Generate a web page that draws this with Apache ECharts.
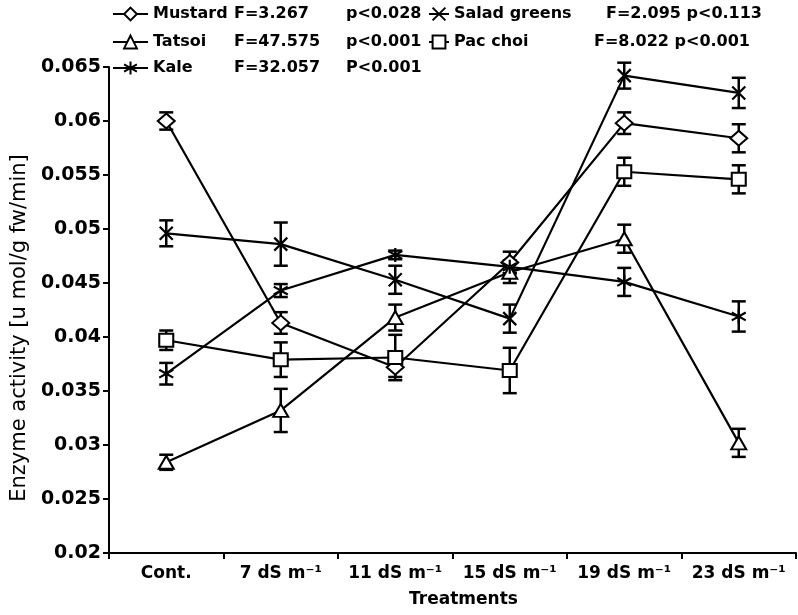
<!DOCTYPE html>
<html>
<head>
<meta charset="utf-8">
<script src="https://cdn.jsdelivr.net/npm/echarts@6/dist/echarts.min.js"></script>
<style>
html,body{margin:0;padding:0;background:#fff;}
#chart{width:798px;height:615px;}
</style>
</head>
<body>
<div id="chart"></div>
<script>
const categories = ['Cont.', '7 dS m\u207B\u00B9', '11 dS m\u207B\u00B9', '15 dS m\u207B\u00B9', '19 dS m\u207B\u00B9', '23 dS m\u207B\u00B9'];

const mustard = [0.0600, 0.0413, 0.0372, 0.0469, 0.0598, 0.0584];
const mustardErr = [0.0008, 0.0010, 0.0009, 0.0010, 0.0010, 0.0013];

const saladGreens = [0.0496, 0.0486, 0.0453, 0.0417, 0.0642, 0.0626];
const saladGreensErr = [0.0012, 0.0020, 0.0013, 0.0013, 0.0012, 0.0014];

const tatsoi = [0.0284, 0.0332, 0.0418, 0.0460, 0.0491, 0.0302];
const tatsoiErr = [0.0007, 0.0020, 0.0012, 0.0010, 0.0013, 0.0013];

const pacChoi = [0.0397, 0.0379, 0.0381, 0.0369, 0.0553, 0.0546];
const pacChoiErr = [0.0009, 0.0016, 0.0021, 0.0021, 0.0013, 0.0013];

const kale = [0.0366, 0.0443, 0.0476, 0.0465, 0.0451, 0.0419];
const kaleErr = [0.0010, 0.0006, 0.0004, 0.0006, 0.0013, 0.0014];

const seriesNames = ['Mustard', 'Salad greens', 'Tatsoi', 'Pac choi', 'Kale'];
const fStats = ['F=3.267', 'F=2.095', 'F=47.575', 'F=8.022', 'F=32.057'];
const pStats = ['p<0.028', 'p<0.113', 'p<0.001', 'p<0.001', 'P<0.001'];

const yTicks = { min: 0.02, max: 0.065, interval: 0.005 };

const FONT = "'DejaVu Sans', Verdana, sans-serif";

const X_PATH = 'path://M0,0L10,10M10,0L0,10';
const AST_PATH = 'path://M5,0L5,10M0,2.2L10,7.8M10,2.2L0,7.8';

const seriesDefs = [
  { name: 'Mustard', values: mustard, err: mustardErr, symbol: 'emptyDiamond', size: [17, 15] },
  { name: 'Salad greens', values: saladGreens, err: saladGreensErr, symbol: X_PATH, size: 13 },
  { name: 'Tatsoi', values: tatsoi, err: tatsoiErr, symbol: 'emptyTriangle', size: [15, 13] },
  { name: 'Pac choi', values: pacChoi, err: pacChoiErr, symbol: 'emptyRect', size: [14, 13] },
  { name: 'Kale', values: kale, err: kaleErr, symbol: AST_PATH, size: 14 }
];

function errorRender(params, api) {
  const i = api.value(0), m = api.value(1), e = api.value(2);
  const top = api.coord([i, m + e]);
  const bot = api.coord([i, m - e]);
  const w = 7;
  const st = { stroke: '#000', lineWidth: 2.5 };
  return {
    type: 'group',
    children: [
      { type: 'line', shape: { x1: top[0], y1: top[1], x2: bot[0], y2: bot[1] }, style: st },
      { type: 'line', shape: { x1: top[0] - w, y1: top[1], x2: top[0] + w, y2: top[1] }, style: st },
      { type: 'line', shape: { x1: bot[0] - w, y1: bot[1], x2: bot[0] + w, y2: bot[1] }, style: st }
    ]
  };
}

const series = [];
seriesDefs.forEach(function (d) {
  series.push({
    type: 'custom',
    name: d.name + ' err',
    renderItem: errorRender,
    z: 1,
    silent: true,
    data: d.values.map(function (v, i) { return [i, v, d.err[i]]; })
  });
});
seriesDefs.forEach(function (d) {
  series.push({
    type: 'line',
    name: d.name,
    data: d.values,
    symbol: d.symbol,
    symbolSize: d.size,
    showAllSymbol: true,
    z: 3,
    color: '#000',
    lineStyle: { color: '#000', width: 2.2 },
    itemStyle: { color: '#000', borderColor: '#000', borderWidth: 2.2 }
  });
});

const LEG_FS = 16;
function legendFor(idx, left, top, iconW, nameW, fW) {
  const base = { fontFamily: FONT, fontWeight: 'bold', fontSize: LEG_FS, color: '#000' };
  const rich = { n: Object.assign({ width: nameW }, base), p: Object.assign({}, base) };
  if (fW) rich.f = Object.assign({ width: fW }, base);
  else rich.f = Object.assign({}, base);
  return {
    left: left, top: top, padding: 0,
    data: [seriesNames[idx]],
    itemWidth: iconW, itemHeight: 16, itemGap: 0,
    textStyle: Object.assign({ rich: rich }, base),
    formatter: function (name) {
      const k = seriesNames.indexOf(name);
      if (fW) return '{n|' + name + '}{f|' + fStats[k] + '}{p|' + pStats[k] + '}';
      return '{n|' + name + '}{f|' + fStats[k] + ' ' + pStats[k] + '}';
    },
    selectedMode: false
  };
}

const chart = echarts.init(document.getElementById('chart'), null, { renderer: 'canvas' });
chart.setOption({
  animation: false,
  backgroundColor: '#fff',
  grid: { left: 109, right: 2, top: 67, bottom: 62, containLabel: false },
  legend: [
    legendFor(0, 112, 6, 35, 81, 112),
    legendFor(2, 112, 34, 35, 81, 112),
    legendFor(4, 112, 60, 35, 81, 112),
    legendFor(1, 428, 6, 20, 152, 0),
    legendFor(3, 428, 34, 20, 140, 0)
  ],
  xAxis: {
    type: 'category',
    data: categories,
    boundaryGap: true,
    name: 'Treatments',
    nameLocation: 'middle',
    nameGap: 38,
    nameTextStyle: { color: '#000', fontFamily: FONT, fontWeight: 'bold', fontSize: 17, padding: [0, 0, 0, 22] },
    axisLine: { lineStyle: { color: '#000', width: 2 } },
    axisTick: { show: true, length: 6, lineStyle: { color: '#000', width: 2 }, alignWithLabel: false },
    axisLabel: { color: '#000', fontFamily: FONT, fontWeight: 'bold', fontSize: 17, margin: 12, interval: 0 },
    splitLine: { show: false }
  },
  yAxis: {
    type: 'value',
    min: yTicks.min, max: yTicks.max, interval: yTicks.interval,
    name: 'Enzyme activity [u mol/g fw/min]',
    nameLocation: 'middle',
    nameGap: 77,
    nameTextStyle: { color: '#000', fontFamily: FONT, fontSize: 21, padding: [0, 36, 0, 0] },
    axisLine: { show: true, lineStyle: { color: '#000', width: 2 } },
    axisTick: { show: true, length: 6, lineStyle: { color: '#000', width: 2 } },
    axisLabel: { color: '#000', fontFamily: FONT, fontWeight: 'bold', fontSize: 19, margin: 8 },
    splitLine: { show: false }
  },
  series: series
});
</script>
</body>
</html>
